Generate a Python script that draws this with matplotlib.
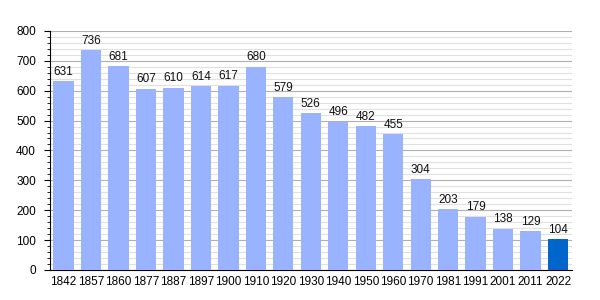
import matplotlib
matplotlib.use("Agg")
import matplotlib.pyplot as plt
from matplotlib.ticker import MultipleLocator

plt.rcParams['font.family'] = ['Liberation Sans', 'DejaVu Sans']

years = ["1842", "1857", "1860", "1877", "1887", "1897", "1900", "1910", "1920", "1930",
         "1940", "1950", "1960", "1970", "1981", "1991", "2001", "2011", "2022"]
population = [631, 736, 681, 607, 610, 614, 617, 680, 579, 526,
              496, 482, 455, 304, 203, 179, 138, 129, 104]

fig = plt.figure(figsize=(6, 3), dpi=100)
ax = fig.add_axes([0.083, 0.1, 0.87, 0.797])

colors = ["#99b3ff"] * (len(years) - 1) + ["#0066cc"]
x = list(range(len(years)))
ax.bar(x, population, width=0.74, color=colors, zorder=3)

for xi, v in zip(x, population):
    ax.text(xi, v + 11, str(v), ha="center", va="bottom", fontsize=8.5, color="#111111", zorder=4)

ax.set_xlim(-0.5, len(years) - 0.5)
ax.set_ylim(0, 800)
ax.set_xticks(x)
ax.set_xticklabels(years, fontsize=8.5)
ax.yaxis.set_major_locator(MultipleLocator(100))
ax.yaxis.set_minor_locator(MultipleLocator(20))
ax.tick_params(axis="y", labelsize=8.5, which="major", length=4, pad=6)
ax.tick_params(axis="y", which="minor", length=2)
ax.tick_params(axis="x", length=0, pad=4)

ax.grid(axis="y", which="major", color="#b0b0b0", linewidth=0.8, zorder=0)
ax.grid(axis="y", which="minor", color="#e0e0e0", linewidth=0.8, zorder=0)

for s in ["top", "right"]:
    ax.spines[s].set_visible(False)
ax.spines["left"].set_color("black")
ax.spines["bottom"].set_color("black")

fig.savefig("out.png", dpi=100)
